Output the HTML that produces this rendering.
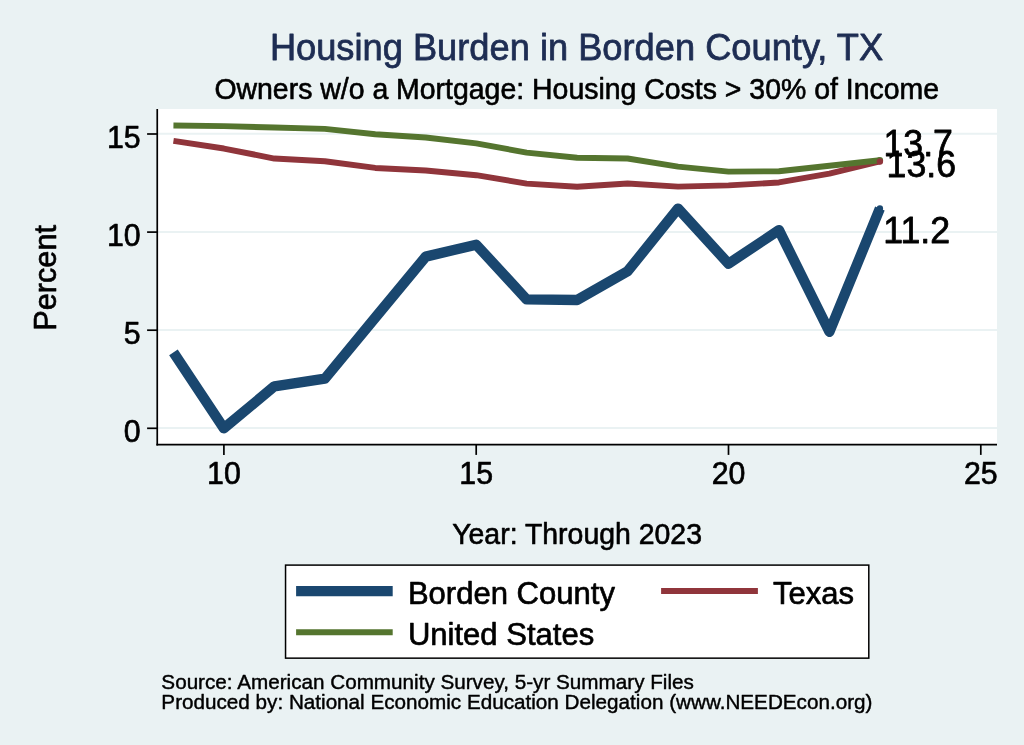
<!DOCTYPE html>
<html lang="en"><head><meta charset="utf-8"><title>Housing Burden in Borden County, TX</title>
<style>html,body{margin:0;padding:0;background:#eaf2f3;}body{width:1024px;height:745px;overflow:hidden;}svg{display:block;}text{font-family:"Liberation Sans", Arial, Helvetica, sans-serif;fill:#000;stroke:#000;stroke-linejoin:round;}</style>
</head><body>
<svg width="1024" height="745" viewBox="0 0 1024 745">
<rect x="0" y="0" width="1024" height="745" fill="#eaf2f3"/>
<rect x="157.40" y="109.00" width="839.60" height="335.60" fill="#fff"/>
<line x1="157.40" y1="428.10" x2="997.00" y2="428.10" stroke="#eaf2f3" stroke-width="2"/>
<line x1="157.40" y1="330.00" x2="997.00" y2="330.00" stroke="#eaf2f3" stroke-width="2"/>
<line x1="157.40" y1="231.90" x2="997.00" y2="231.90" stroke="#eaf2f3" stroke-width="2"/>
<line x1="157.40" y1="133.80" x2="997.00" y2="133.80" stroke="#eaf2f3" stroke-width="2"/>
<path d="M173.44 352.37 L223.90 428.30 L274.36 386.31 L324.82 378.66 L375.28 317.64 L425.74 256.62 L476.20 244.66 L526.66 299.40 L577.12 299.99 L627.58 271.34 L678.04 208.56 L728.50 263.69 L778.96 230.14 L829.42 331.77 L879.88 208.56" fill="none" stroke="#1a476f" stroke-width="10.3" stroke-linejoin="round" stroke-linecap="butt"/>
<path d="M173.44 140.87 L223.90 148.52 L274.36 158.52 L324.82 161.27 L375.28 167.94 L425.74 170.49 L476.20 175.20 L526.66 183.64 L577.12 186.78 L627.58 183.44 L678.04 186.58 L728.50 185.40 L778.96 182.46 L829.42 173.63 L879.88 161.47" fill="none" stroke="#90353b" stroke-width="5.9" stroke-linejoin="round" stroke-linecap="butt"/>
<path d="M173.44 125.56 L223.90 126.15 L274.36 127.53 L324.82 128.90 L375.28 134.20 L425.74 137.53 L476.20 143.42 L526.66 152.64 L577.12 157.74 L627.58 158.52 L678.04 166.57 L728.50 171.67 L778.96 171.28 L829.42 165.78 L879.88 160.29" fill="none" stroke="#55752f" stroke-width="5.9" stroke-linejoin="round" stroke-linecap="butt"/>
<circle cx="879.88" cy="208.56" r="3.2" fill="#1a476f"/>
<circle cx="879.88" cy="160.29" r="3.2" fill="#55752f"/>
<circle cx="879.88" cy="161.47" r="3.2" fill="#90353b"/>
<text transform="translate(883.20 242.50) scale(1 1.030)" font-size="35.70" stroke-width="0.75">11.2</text>
<text transform="translate(883.50 155.50) scale(1 1.030)" font-size="35.70" stroke-width="0.75">13.7</text>
<text transform="translate(886.60 177.10) scale(1 1.030)" font-size="35.70" stroke-width="0.75">13.6</text>
<line x1="157.25" y1="109.00" x2="157.25" y2="445.40" stroke="#000" stroke-width="1.7"/>
<line x1="156.40" y1="444.60" x2="997.00" y2="444.60" stroke="#000" stroke-width="1.7"/>
<line x1="147.10" y1="428.30" x2="157.40" y2="428.30" stroke="#000" stroke-width="1.7"/>
<text transform="translate(140.70 441.80) scale(1 1.020)" font-size="30.30" stroke-width="0.64" text-anchor="end">0</text>
<line x1="147.10" y1="330.20" x2="157.40" y2="330.20" stroke="#000" stroke-width="1.7"/>
<text transform="translate(140.70 343.70) scale(1 1.020)" font-size="30.30" stroke-width="0.64" text-anchor="end">5</text>
<line x1="147.10" y1="232.10" x2="157.40" y2="232.10" stroke="#000" stroke-width="1.7"/>
<text transform="translate(140.70 245.60) scale(1 1.020)" font-size="30.30" stroke-width="0.64" text-anchor="end">10</text>
<line x1="147.10" y1="134.00" x2="157.40" y2="134.00" stroke="#000" stroke-width="1.7"/>
<text transform="translate(140.70 147.50) scale(1 1.020)" font-size="30.30" stroke-width="0.64" text-anchor="end">15</text>
<line x1="223.90" y1="444.60" x2="223.90" y2="454.90" stroke="#000" stroke-width="1.7"/>
<text transform="translate(223.90 484.30) scale(1 1.040)" font-size="30.30" stroke-width="0.64" text-anchor="middle">10</text>
<line x1="476.20" y1="444.60" x2="476.20" y2="454.90" stroke="#000" stroke-width="1.7"/>
<text transform="translate(476.20 484.30) scale(1 1.040)" font-size="30.30" stroke-width="0.64" text-anchor="middle">15</text>
<line x1="728.50" y1="444.60" x2="728.50" y2="454.90" stroke="#000" stroke-width="1.7"/>
<text transform="translate(728.50 484.30) scale(1 1.040)" font-size="30.30" stroke-width="0.64" text-anchor="middle">20</text>
<line x1="980.80" y1="444.60" x2="980.80" y2="454.90" stroke="#000" stroke-width="1.7"/>
<text transform="translate(980.80 484.30) scale(1 1.040)" font-size="30.30" stroke-width="0.64" text-anchor="middle">25</text>
<text transform="translate(576.50 60.00)" font-size="36.25" stroke-width="0.76" text-anchor="middle" style="fill:#1e2d53;stroke:#1e2d53">Housing Burden in Borden County, TX</text>
<text transform="translate(576.70 98.60) scale(1 1.020)" font-size="28.45" stroke-width="0.60" text-anchor="middle">Owners w/o a Mortgage: Housing Costs &gt; 30% of Income</text>
<text transform="translate(577.10 543.90) scale(1 1.020)" font-size="28.45" stroke-width="0.60" text-anchor="middle">Year: Through 2023</text>
<text transform="translate(55.50 277.90) rotate(-90) scale(1 1.020)" font-size="30.70" stroke-width="0.64" text-anchor="middle">Percent</text>
<rect x="285.55" y="565.1" width="583.25" height="93.05" fill="#fff" stroke="#000" stroke-width="1.5"/>
<line x1="296.1" y1="591.05" x2="392.7" y2="591.05" stroke="#1a476f" stroke-width="10.2"/>
<line x1="296.1" y1="632.3" x2="392.7" y2="632.3" stroke="#55752f" stroke-width="6"/>
<line x1="661.1" y1="591.1" x2="757.9" y2="591.1" stroke="#90353b" stroke-width="6"/>
<text transform="translate(407.90 603.50)" font-size="31.04" stroke-width="0.65">Borden County</text>
<text transform="translate(407.90 644.90)" font-size="31.04" stroke-width="0.65">United States</text>
<text transform="translate(772.90 603.50)" font-size="31.04" stroke-width="0.65">Texas</text>
<text transform="translate(161.35 688.90) scale(1 1.020)" font-size="20.68" stroke-width="0.43">Source: American Community Survey, 5-yr Summary Files</text>
<text transform="translate(161.35 709.10) scale(1 1.020)" font-size="20.68" stroke-width="0.43">Produced by: National Economic Education Delegation (www.NEEDEcon.org)</text>
</svg>
</body></html>
